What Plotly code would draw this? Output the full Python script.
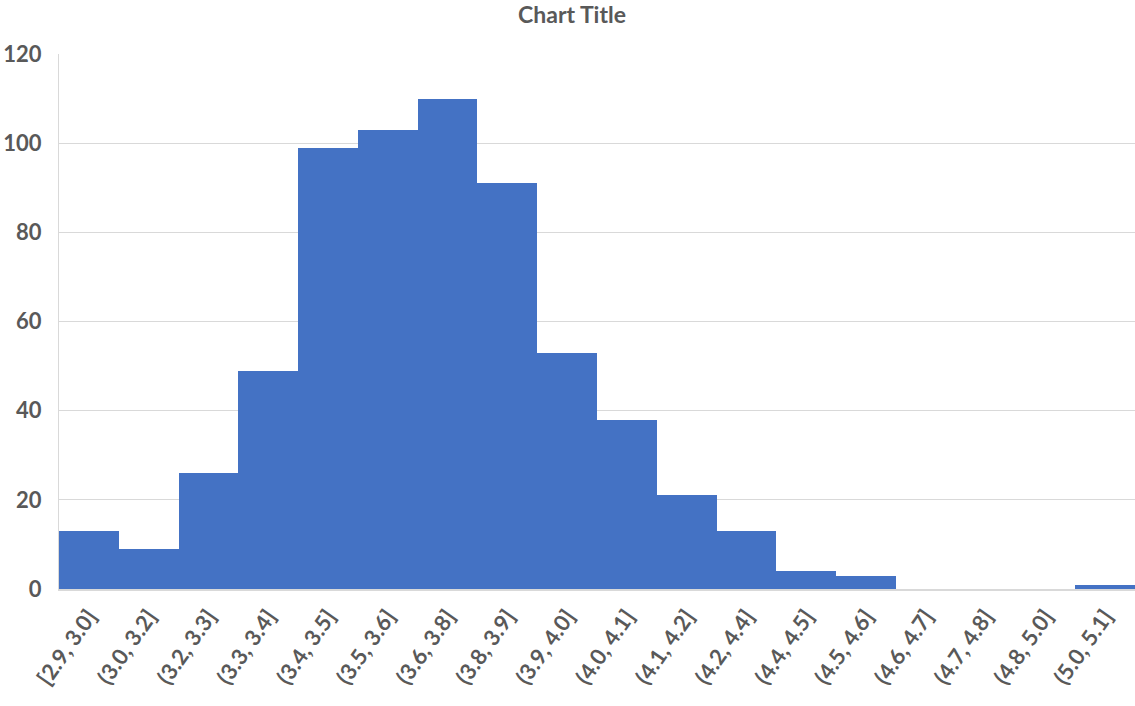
import plotly.graph_objects as go

# histogram bins and counts
bins = ['[2.9, 3.0]', '(3.0, 3.2]', '(3.2, 3.3]', '(3.3, 3.4]', '(3.4, 3.5]', '(3.5, 3.6]',
        '(3.6, 3.8]', '(3.8, 3.9]', '(3.9, 4.0]', '(4.0, 4.1]', '(4.1, 4.2]', '(4.2, 4.4]',
        '(4.4, 4.5]', '(4.5, 4.6]', '(4.6, 4.7]', '(4.7, 4.8]', '(4.8, 5.0]', '(5.0, 5.1]']
counts = [13, 9, 26, 49, 99, 103, 110, 91, 53, 38, 21, 13, 4, 3, 0, 0, 0, 1]
y_ticks = [0, 20, 40, 60, 80, 100, 120]

text_color = '#595959'
grid_color = '#D9D9D9'

fig = go.Figure()
fig.add_trace(go.Bar(x=bins, y=counts, marker=dict(color='#4472C4', line=dict(width=0)),
                     showlegend=False))

fig.update_layout(
    width=1135, height=706,
    margin=dict(l=59, r=0, t=54, b=117, autoexpand=False),
    paper_bgcolor='white', plot_bgcolor='white',
    bargap=0,
    font=dict(family='Lato, Open Sans, sans-serif', color=text_color),
    title=dict(text='Chart Title', x=0.504, xanchor='center', y=0.979, yanchor='middle',
               font=dict(size=23, color=text_color, weight='bold')),
)
fig.update_xaxes(
    type='category', range=[-0.5, len(bins) - 0.5], automargin=False,
    tickangle=-55, tickfont=dict(size=22, color=text_color, family='Lato', weight='bold'),
    showgrid=False, showline=True, linecolor=grid_color, linewidth=2,
    ticks='', ticklabelstandoff=4,
)
fig.update_yaxes(
    range=[0, 120], tickvals=y_ticks, automargin=False,
    tickfont=dict(size=22, color=text_color, family='Lato', weight='bold'),
    showgrid=True, gridcolor=grid_color, gridwidth=1,
    showline=True, linecolor=grid_color, linewidth=1,
    zeroline=False, ticks='', ticklabelstandoff=12,
)

# drop the default page margin so the figure sits at the window's corner
fig.write_html('out.html', config={'responsive': False, 'displayModeBar': False},
               post_script="document.body.style.margin='0';document.body.style.overflow='hidden';")
